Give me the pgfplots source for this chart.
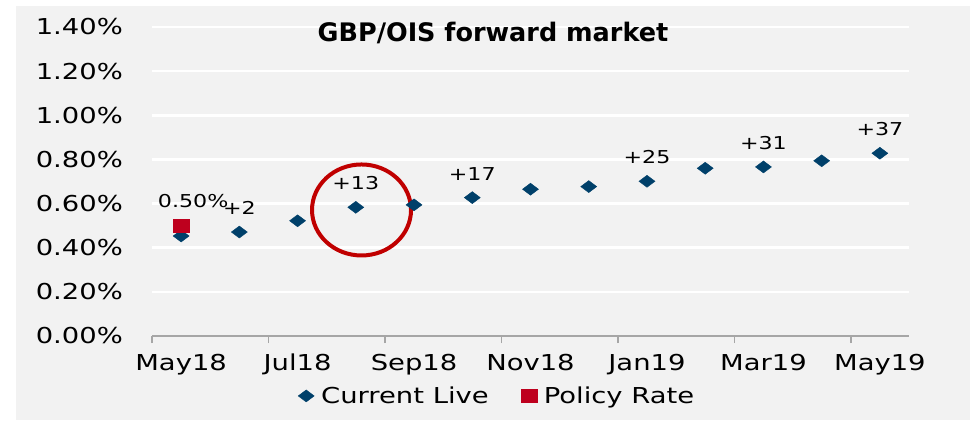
\documentclass[border=0pt]{standalone}
\usepackage{fontspec}
\setmainfont{DejaVu Sans}
\newfontfamily\tickfont{DejaVu Sans}[FakeStretch=1.25]
\newfontfamily\titlefont{DejaVu Sans}
\usepackage{pgfplots}
\pgfplotsset{compat=1.18}
\definecolor{bg}{HTML}{F2F2F2}
\definecolor{navy}{HTML}{00406A}
\definecolor{pred}{HTML}{BE001E}
\definecolor{cred}{HTML}{C00000}
\definecolor{axgrey}{HTML}{A6A6A6}
\newcommand\tkf{\tickfont\fontsize{22}{26}\selectfont}
\newcommand\lbf{\tickfont\fontsize{17.8}{21}\selectfont}
\begin{document}
\begin{tikzpicture}[x=1bp,y=1bp]
\fill[white] (0,0) rectangle (976,420);
\fill[bg] (16,0) rectangle (970,414);
\begin{axis}[
  at={(152bp,84bp)}, anchor=south west,
  scale only axis, width=757bp, height=309bp,
  xmin=-0.5, xmax=12.5, ymin=0, ymax=1.4,
  clip=false,
  axis x line*=bottom, axis y line*=left,
  y axis line style={draw=none},
  x axis line style={draw=axgrey, line width=1.5bp},
  ytick={0,0.2,0.4,0.6,0.8,1.0,1.2,1.4},
  yticklabels={0.00\%,0.20\%,0.40\%,0.60\%,0.80\%,1.00\%,1.20\%,1.40\%},
  ymajorgrids, major grid style={white, line width=2.5bp},
  ytick style={draw=none},
  yticklabel style={anchor=east, inner sep=0pt, xshift=-22bp, font=\tkf},
  xtick={-0.5,1.5,3.5,5.5,7.5,9.5,11.5},
  xticklabels={May18,Jul18,Sep18,Nov18,Jan19,Mar19,May19},
  xtick style={draw=axgrey, line width=1.5bp},
  major tick length=7bp, tick align=outside,
  xticklabel style={anchor=north, inner sep=0pt, xshift=29.1bp, yshift=-11bp, font=\tkf},
  legend style={at={(0.456,-0.194)}, anchor=center, draw=none, fill=none,
    font=\tkf, legend columns=2,
    /tikz/every even column/.append style={column sep=30.5bp}},
  legend cell align=left,
]
\addplot[only marks, mark=diamond*, mark size=8bp, mark options={rotate=90, draw=navy, fill=navy}]
  coordinates {(0,0.453)(1,0.471)(2,0.522)(3,0.583)(4,0.594)(5,0.627)(6,0.665)(7,0.677)(8,0.701)(9,0.760)(10,0.766)(11,0.794)(12,0.828)};
\addlegendentry{\hspace{5bp}Current Live}
\addplot[only marks, mark=square*, mark size=6.5bp, mark options={xscale=1.2, draw=pred, fill=pred}]
  coordinates {(0,0.502)};
\addlegendentry{\hspace{5bp}Policy Rate}
\addplot[draw=none, mark=none, forget plot, nodes near coords, point meta=explicit symbolic,
  every node near coord/.style={anchor=base, inner sep=0pt, yshift=17.5bp, font=\lbf, text=black}]
  coordinates {(1,0.471)[+2] (3,0.583)[+13] (5,0.627)[+17] (8,0.701)[+25] (10,0.766)[+31] (12,0.828)[+37]};
\addplot[draw=none, mark=none, forget plot, nodes near coords, point meta=explicit symbolic,
  every node near coord/.style={anchor=base, inner sep=0pt, yshift=17.5bp, xshift=12bp, font=\lbf, text=black}]
  coordinates {(0,0.502)[0.50\%]};
\draw[cred, line width=4bp] (axis cs:3.098,0.571) ellipse [x radius=49.5bp, y radius=45.5bp];
\end{axis}
\node[font=\titlefont\bfseries\fontsize{25.6}{29}\selectfont, inner sep=0pt] at (493,387) {GBP/OIS forward market};
\end{tikzpicture}
\end{document}
